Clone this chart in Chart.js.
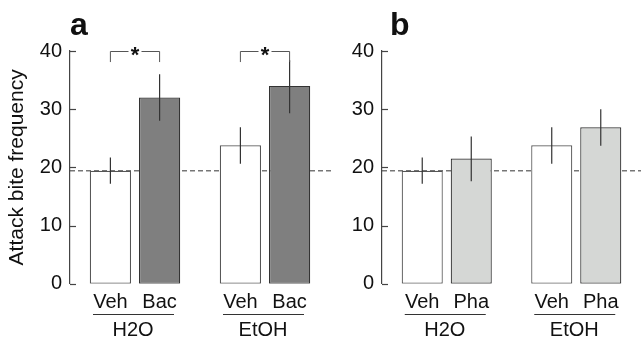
<!DOCTYPE html>
<html>
<head>
<meta charset="utf-8">
<script src="https://cdn.jsdelivr.net/npm/chart.js@4"></script>
<style>
html, body { margin: 0; padding: 0; background: #fff; }
#wrap { position: relative; width: 641px; height: 337px; overflow: hidden; }
canvas { position: absolute; top: 0; }
#chartA { left: 0; }
#chartB { left: 320px; }
</style>
</head>
<body>
<div id="wrap">
  <canvas id="chartA" width="331" height="337"></canvas>
  <canvas id="chartB" width="321" height="337"></canvas>
</div>
<script>
const groups = ['H2O', 'EtOH']
const yTicks = [0, 10, 20, 30, 40]
const baseline = 19.4

// panel a
const vehA = [19.4, 23.8]
const bacA = [32.0, 34.0]
const vehErrA = [[17.2, 21.7], [20.6, 26.9]]
const bacErrA = [[28.0, 36.0], [29.3, 38.4]]
const starsA = ['*', '*']

// panel b
const vehB = [19.4, 23.8]
const phaB = [21.5, 26.9]
const vehErrB = [[17.2, 21.7], [20.6, 26.9]]
const phaErrB = [[17.6, 25.3], [23.7, 30.0]]

Chart.defaults.font.family = "'Liberation Sans', Arial, Helvetica, sans-serif"
Chart.defaults.color = '#111'

const extras = {
    id: 'extras',
    beforeDatasetsDraw(chart, args, opts) {
        // dashed control level, hidden behind the bars
        const ctx = chart.ctx
        const y = chart.scales.y.getPixelForValue(opts.baseline)
        ctx.save()
        ctx.strokeStyle = '#333'
        ctx.lineWidth = 1
        ctx.setLineDash([5, 3])
        ctx.beginPath()
        ctx.moveTo(chart.chartArea.left, y)
        ctx.lineTo(chart.width, y)
        ctx.stroke()
        ctx.restore()
    },
    afterDatasetsDraw(chart, args, opts) {
        const ctx = chart.ctx
        const area = chart.chartArea
        const ys = chart.scales.y
        const xs = chart.scales.x
        ctx.save()

        // error bars
        ctx.strokeStyle = '#333'
        ctx.lineWidth = 1.2
        chart.data.datasets.forEach((ds, i) => {
            chart.getDatasetMeta(i).data.forEach((bar, j) => {
                const [lo, hi] = ds.errors[j]
                ctx.beginPath()
                ctx.moveTo(bar.x, ys.getPixelForValue(lo))
                ctx.lineTo(bar.x, ys.getPixelForValue(hi))
                ctx.stroke()
            })
        })

        // inward tick marks
        ctx.strokeStyle = '#444'
        ctx.lineWidth = 1.2
        ys.ticks.forEach(t => {
            const y = Math.round(ys.getPixelForValue(t.value)) + 0.5
            ctx.beginPath()
            ctx.moveTo(area.left, y)
            ctx.lineTo(area.left + 6, y)
            ctx.stroke()
        })

        // bar labels, group underline and group labels
        ctx.fillStyle = '#111'
        ctx.font = "20px 'Liberation Sans', Arial, sans-serif"
        ctx.textAlign = 'center'
        ctx.textBaseline = 'alphabetic'
        chart.data.datasets.forEach((ds, i) => {
            chart.getDatasetMeta(i).data.forEach(bar => {
                ctx.fillText(ds.label, bar.x, 308)
            })
        })
        groups.forEach((g, j) => {
            const gc = xs.getPixelForValue(j)
            ctx.strokeStyle = '#333'
            ctx.lineWidth = 1
            ctx.beginPath()
            ctx.moveTo(gc - 42, 314.5)
            ctx.lineTo(gc + 39, 314.5)
            ctx.stroke()
            ctx.fillText(g, gc - 2, 336)
        })

        // significance brackets
        if (opts.stars) {
            const m0 = chart.getDatasetMeta(0).data
            const m1 = chart.getDatasetMeta(1).data
            const yTop = Math.round(ys.getPixelForValue(40)) + 0.5
            const yBot = ys.getPixelForValue(38.1)
            ctx.strokeStyle = '#555'
            ctx.lineWidth = 1
            opts.stars.forEach((s, j) => {
                const x1 = m0[j].x, x2 = m1[j].x, cx = (x1 + x2) / 2
                ctx.beginPath()
                ctx.moveTo(x1, yBot)
                ctx.lineTo(x1, yTop)
                ctx.lineTo(cx - 6.5, yTop)
                ctx.moveTo(cx + 6.5, yTop)
                ctx.lineTo(x2, yTop)
                ctx.lineTo(x2, yBot)
                ctx.stroke()
                ctx.font = "bold 22px 'Liberation Sans', Arial, sans-serif"
                ctx.fillText(s, cx, yTop + 10.5)
            })
        }

        // panel letter
        ctx.textAlign = 'left'
        ctx.font = "bold 32px 'Liberation Sans', Arial, sans-serif"
        ctx.fillText(opts.letter, 70, 35)
        ctx.restore()
    }
}

function makeChart(id, letter, data0, err0, label1, data1, err1, color1, title, axisWidth, padRight, stars) {
    return new Chart(document.getElementById(id), {
        type: 'bar',
        data: {
            labels: groups,
            datasets: [{
                label: 'Veh',
                data: data0,
                errors: err0,
                backgroundColor: '#ffffff',
                borderColor: '#555',
                borderWidth: 1.2,
                borderSkipped: false,
                categoryPercentage: 0.757,
                barPercentage: 0.838
            }, {
                label: label1,
                data: data1,
                errors: err1,
                backgroundColor: color1,
                borderColor: '#333',
                borderWidth: 1.2,
                borderSkipped: false,
                categoryPercentage: 0.757,
                barPercentage: 0.838
            }]
        },
        options: {
            responsive: false,
            animation: false,
            layout: { padding: { left: 0, right: padRight, top: 51, bottom: 53.3 } },
            plugins: {
                legend: { display: false },
                tooltip: { enabled: false },
                extras: { baseline: baseline, letter: letter, stars: stars }
            },
            scales: {
                x: { display: false },
                y: {
                    min: 0,
                    max: 40,
                    afterBuildTicks: s => { s.ticks = yTicks.map(v => ({ value: v })) },
                    afterFit: s => { s.width = axisWidth },
                    grid: { display: false, drawTicks: false },
                    border: { display: true, color: '#444', width: 1.2 },
                    ticks: { padding: 8, font: { size: 20 }, color: '#111' },
                    title: {
                        display: !!title,
                        text: title,
                        font: { size: 21 },
                        color: '#111',
                        padding: { top: 5, bottom: 0 }
                    }
                }
            }
        },
        plugins: [extras]
    })
}

makeChart('chartA', 'a', vehA, vehErrA, 'Bac', bacA, bacErrA, '#7f7f7f', 'Attack bite frequency', 70, 1, starsA)
makeChart('chartB', 'b', vehB, vehErrB, 'Pha', phaB, phaErrB, '#d5d7d5', '', 62, 0, null)
</script>
</body>
</html>
